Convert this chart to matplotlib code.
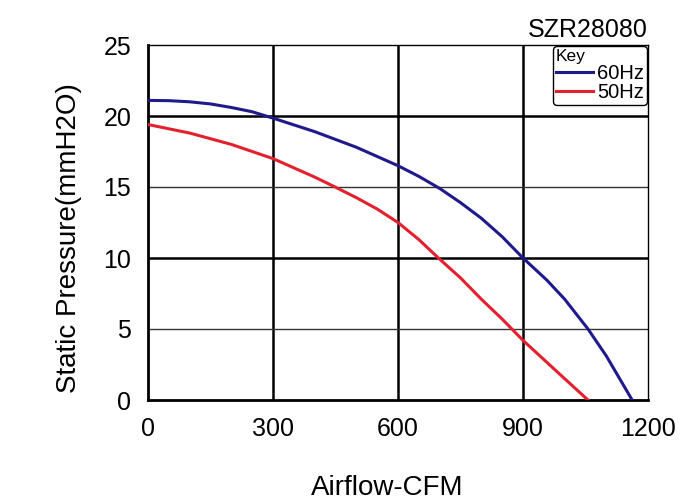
import matplotlib.pyplot as plt

plt.rcParams['font.family'] = ['Liberation Sans', 'DejaVu Sans']

# values
flow_60 = [0, 50, 100, 150, 200, 250, 300, 400, 500, 600, 650, 700, 750,
           800, 850, 900, 957, 1000, 1056, 1100, 1162]
pres_60 = [21.1, 21.08, 21.0, 20.85, 20.6, 20.3, 19.85, 18.9, 17.8, 16.5,
           15.75, 14.9, 13.9, 12.8, 11.5, 10.0, 8.45, 7.1, 5.0, 3.1, 0.0]

flow_50 = [0, 100, 200, 300, 400, 449, 500, 550, 600, 650, 697, 750, 800,
           850, 900, 950, 1000, 1056]
pres_50 = [19.4, 18.8, 18.0, 17.0, 15.7, 15.0, 14.25, 13.45, 12.5, 11.3,
           10.0, 8.6, 7.1, 5.7, 4.2, 2.85, 1.5, 0.0]

xticks = [0, 300, 600, 900, 1200]
yticks = [0, 5, 10, 15, 20, 25]

fig = plt.figure(figsize=(7, 5), dpi=100)
ax = fig.add_axes([0.2114, 0.2, 0.7143, 0.71])

# grid: heavy lines at 300/600/900 and 10/20, light at 5/15
for x in xticks[1:-1]:
    ax.axvline(x, color='black', lw=1.8, zorder=1)
for y in [10, 20]:
    ax.axhline(y, color='black', lw=1.8, zorder=1)
for y in [5, 15]:
    ax.axhline(y, color='#333333', lw=1.0, zorder=1)

ax.plot(flow_60, pres_60, color='#1f1a8c', lw=2.2, label='60Hz', zorder=3)
ax.plot(flow_50, pres_50, color='#e3202e', lw=2.2, label='50Hz', zorder=3)

ax.set_xlim(0, 1200)
ax.set_ylim(0, 25)
ax.set_xticks(xticks)
ax.set_yticks(yticks)
ax.tick_params(length=0, labelsize=18, pad=12)

for s in ['left', 'bottom']:
    ax.spines[s].set_linewidth(2)
for s in ['top', 'right']:
    ax.spines[s].set_linewidth(1)

ax.set_xlabel('Airflow-CFM', fontsize=20)
ax.xaxis.set_label_coords(0.478, -0.212)
ax.set_ylabel('Static Pressure(mmH2O)', fontsize=20)
ax.yaxis.set_label_coords(-0.132, 0.455)
ax.set_title('SZR28080', fontsize=18, loc='right', pad=6)

leg = ax.legend(title='Key', loc='upper right', fontsize=14.5, title_fontsize=12.5,
                handlelength=1.85, handletextpad=0.2, borderaxespad=0.05,
                borderpad=0.15, labelspacing=0.0, fancybox=True,
                edgecolor='black', framealpha=1, alignment='left')
leg.get_frame().set_linewidth(1)

fig.savefig('out.png', dpi=100)
